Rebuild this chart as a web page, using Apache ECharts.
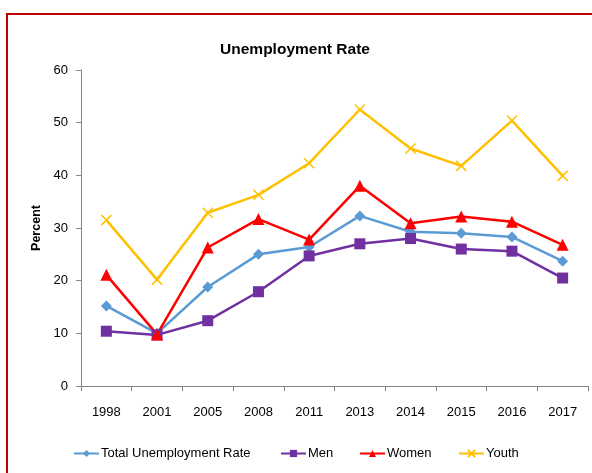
<!DOCTYPE html>
<html><head><meta charset="utf-8">
<script src="https://cdn.jsdelivr.net/npm/echarts@6/dist/echarts.min.js"></script>
<style>html,body{margin:0;padding:0;background:#fff}#c{width:592px;height:473px}</style>
</head><body><div id="c"></div>
<script>
const years = ['1998','2001','2005','2008','2011','2013','2014','2015','2016','2017'];
const total = [15.2, 10.0, 18.8, 25.0, 26.4, 32.3, 29.3, 29.0, 28.3, 23.7];
const men   = [10.4, 9.7, 12.4, 17.9, 24.7, 27.0, 28.0, 26.0, 25.6, 20.5];
const women = [21.1, 9.8, 26.3, 31.7, 27.8, 38.0, 30.9, 32.2, 31.2, 26.8];
const youth = [31.5, 20.2, 32.9, 36.3, 42.3, 52.5, 45.1, 41.8, 50.4, 39.9];
const yTicks = [0, 10, 20, 30, 40, 50, 60];
const seriesNames = ['Total Unemployment Rate','Men','Women','Youth'];

const FONT = 'Liberation Sans';
const X_PATH = 'path://M0,0 L10,10 M10,0 L0,10';
const chart = echarts.init(document.getElementById('c'), null, {renderer:'canvas'});
function ser(name, data, color, symbol, size) {
  return {
    name, type:'line', data, symbol, symbolSize:size,
    lineStyle:{color, width:2.5},
    itemStyle: symbol === X_PATH ? {color:'transparent', borderColor:color, borderWidth:1.5} : {color, borderWidth:0},
    emphasis:{disabled:true}, animation:false
  };
}
const legendLefts = [73, 280, 359, 458];
const legends = seriesNames.map((n, i) => ({
  top:447, left:legendLefts[i], padding:0, itemWidth:25, itemHeight:9,
  textStyle:{fontFamily:FONT, fontSize:13, color:'#000', padding:[0,0,0,-3]},
  data:[n]
}));
chart.setOption({
  animation:false,
  textStyle:{fontFamily:FONT},
  graphic:[{type:'rect', shape:{x:7, y:14, width:700, height:600}, style:{fill:'none', stroke:'#C00000', lineWidth:2}, z:-1}],
  title:{text:'Unemployment Rate', left:290, textAlign:'center', top:37,
    textStyle:{fontFamily:FONT, fontSize:15.5, fontWeight:'bold', color:'#000'}},
  grid:{left:81, right:4, top:70, bottom:87, containLabel:false},
  legend:legends,
  xAxis:{type:'category', data:years, boundaryGap:true,
    axisLine:{lineStyle:{color:'#868686', width:1}},
    axisTick:{show:true, length:5, lineStyle:{color:'#868686'}},
    axisLabel:{color:'#000', fontSize:13, margin:20, fontFamily:FONT}},
  yAxis:{type:'value', min:yTicks[0], max:yTicks[yTicks.length-1], interval:10,
    name:'Percent', nameLocation:'middle', nameGap:36, nameRotate:90,
    nameTextStyle:{fontWeight:'bold', fontSize:12.5, color:'#000', fontFamily:FONT},
    axisLine:{show:true, lineStyle:{color:'#868686'}},
    axisTick:{show:true, length:5, lineStyle:{color:'#868686'}},
    splitLine:{show:false},
    axisLabel:{color:'#000', fontSize:13, margin:13, fontFamily:FONT}},
  series:[
    ser(seriesNames[0], total, '#5B9BD5', 'diamond', 11),
    ser(seriesNames[1], men, '#7030A0', 'rect', 11),
    ser(seriesNames[2], women, '#FF0000', 'triangle', 12),
    ser(seriesNames[3], youth, '#FFC000', X_PATH, 10)
  ]
});
</script></body></html>
